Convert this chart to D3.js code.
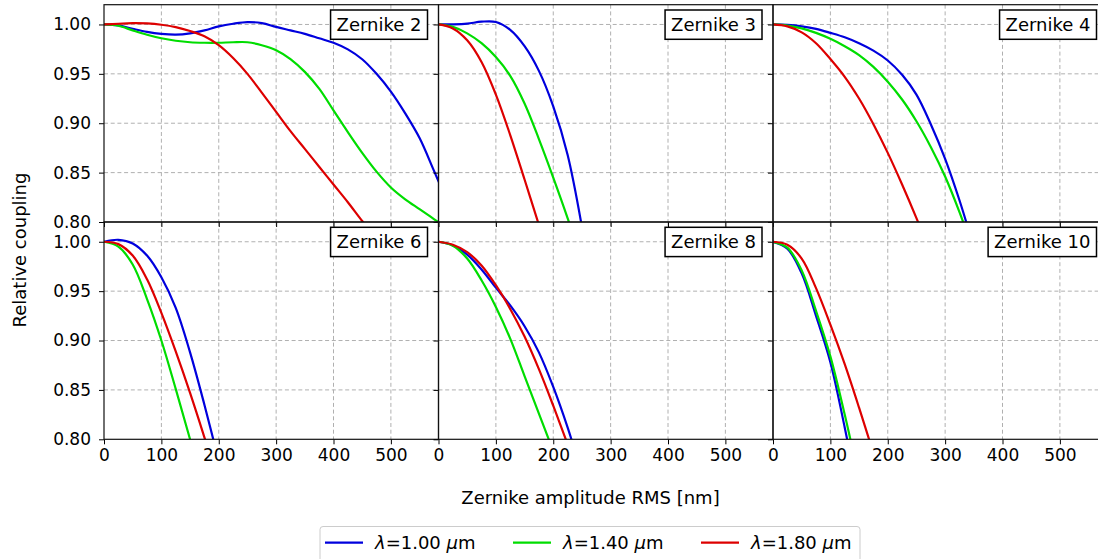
<!DOCTYPE html>
<html>
<head>
<meta charset="utf-8">
<script src="https://cdn.jsdelivr.net/npm/d3@7"></script>
<style>
  html, body { margin: 0; padding: 0; background: #fff; }
  svg { display: block; font-family: "DejaVu Sans", sans-serif; }
</style>
</head>
<body>
<svg id="chart" width="1098" height="559"></svg>
<script>
// ---------- data ----------
const xGrid = [0, 25, 50, 75, 100, 125, 150, 175, 200, 225, 250, 275, 300,
               325, 350, 375, 400, 425, 450, 475, 500, 525, 550, 575, 600];

const panelTitles = ["Zernike 2", "Zernike 3", "Zernike 4", "Zernike 6", "Zernike 8", "Zernike 10"];
const wavelengths = ["1.00", "1.40", "1.80"];
const seriesColors = ["#0000dd", "#00dd00", "#dd0000"];

const xTicks = [0, 100, 200, 300, 400, 500];
const yTicks = [0.80, 0.85, 0.90, 0.95, 1.00];

// Zernike 2
const z2Blue  = [1.000, 0.999, 0.9956, 0.9925, 0.9905, 0.9897, 0.991, 0.994, 0.998, 1.0007, 1.0024, 1.0013, 0.9975,
                 0.994, 0.9905, 0.986, 0.9815, 0.9748, 0.9648, 0.950, 0.932, 0.910, 0.885, 0.852, 0.818];
const z2Green = [1.000, 0.9987, 0.994, 0.9896, 0.986, 0.9835, 0.982, 0.9815, 0.9815, 0.982, 0.982, 0.979, 0.974,
                 0.965, 0.952, 0.935, 0.913, 0.891, 0.870, 0.851, 0.835, 0.823, 0.813, 0.803, 0.793];
const z2Red   = [1.000, 1.0007, 1.0013, 1.001, 0.9997, 0.9973, 0.9933, 0.988, 0.979, 0.966, 0.950, 0.931, 0.9115,
                 0.892, 0.874, 0.856, 0.838, 0.820, 0.801, 0.783];
// Zernike 3
const z3Blue  = [1.000, 1.0001, 1.0008, 1.0028, 1.0025, 0.9945, 0.978, 0.953, 0.917, 0.868, 0.795];
const z3Green = [1.000, 0.9975, 0.991, 0.981, 0.967, 0.948, 0.920, 0.884, 0.845, 0.804, 0.760];
const z3Red   = [1.000, 0.996, 0.984, 0.962, 0.929, 0.888, 0.843, 0.797];
// Zernike 4
const z4Blue  = [1.000, 0.9995, 0.998, 0.9955, 0.9915, 0.987, 0.981, 0.9735, 0.9635, 0.949, 0.929, 0.899, 0.864, 0.822, 0.774];
const z4Green = [1.000, 0.9988, 0.996, 0.9915, 0.9855, 0.978, 0.969, 0.957, 0.942, 0.924, 0.902, 0.876, 0.846, 0.810, 0.770];
const z4Red   = [1.000, 0.998, 0.992, 0.981, 0.965, 0.947, 0.925, 0.899, 0.870, 0.838, 0.804, 0.768];
// Zernike 6
const z6Blue  = [1.000, 1.002, 0.9983, 0.986, 0.964, 0.933, 0.888, 0.835, 0.778];
const z6Green = [1.000, 0.995, 0.977, 0.942, 0.900, 0.851, 0.800, 0.748];
const z6Red   = [1.000, 0.9976, 0.986, 0.962, 0.928, 0.889, 0.847, 0.802, 0.755];
// Zernike 8
const z8Blue  = [1.000, 0.9963, 0.987, 0.972, 0.9535, 0.9355, 0.9145, 0.888, 0.853, 0.812, 0.765];
const z8Green = [1.000, 0.996, 0.983, 0.961, 0.934, 0.902, 0.864, 0.826, 0.788];
const z8Red   = [1.000, 0.997, 0.9895, 0.976, 0.956, 0.932, 0.904, 0.871, 0.834, 0.795];
// Zernike 10
const z10Blue  = [1.000, 0.993, 0.968, 0.925, 0.878, 0.812, 0.740];
const z10Green = [1.000, 0.994, 0.971, 0.930, 0.884, 0.825, 0.760];
const z10Red   = [1.000, 0.997, 0.983, 0.953, 0.916, 0.876, 0.832, 0.786];

const panelSeries = [
  [z2Blue, z2Green, z2Red],
  [z3Blue, z3Green, z3Red],
  [z4Blue, z4Green, z4Red],
  [z6Blue, z6Green, z6Red],
  [z8Blue, z8Green, z8Red],
  [z10Blue, z10Green, z10Red]
];

// ---------- layout ----------
const svg = d3.select("#chart");
const plotLeft = 104, plotTop = 4.7;
const panelW = 334.5, panelH = 217.3;
const xMax = 583;
const font = "DejaVu Sans";

const defs = svg.append("defs");
const gridLayer = svg.append("g");
const lineLayer = svg.append("g");
const axisLayer = svg.append("g");
const boxLayer = svg.append("g");

panelTitles.forEach((title, i) => {
  const col = i % 3, row = Math.floor(i / 3);
  const left = plotLeft + col * panelW;
  const top = plotTop + row * panelH;
  const x = d3.scaleLinear().domain([0, xMax]).range([left, left + panelW]);
  const y = d3.scaleLinear().domain([0.80, 1.02]).range([top + panelH, top]);

  const clipId = "clip" + i;
  defs.append("clipPath").attr("id", clipId)
    .append("rect").attr("x", left).attr("y", top).attr("width", panelW).attr("height", panelH);

  // grid
  const g = gridLayer.append("g").attr("clip-path", `url(#${clipId})`);
  g.selectAll(".gx").data(xTicks.filter(t => t > 0)).enter().append("line")
    .attr("x1", d => x(d)).attr("x2", d => x(d)).attr("y1", top).attr("y2", top + panelH)
    .attr("stroke", "#b0b0b0").attr("stroke-width", 1).attr("stroke-dasharray", "4,2.7");
  g.selectAll(".gy").data(yTicks.filter(t => t > 0.8)).enter().append("line")
    .attr("y1", d => y(d)).attr("y2", d => y(d)).attr("x1", left).attr("x2", left + panelW)
    .attr("stroke", "#b0b0b0").attr("stroke-width", 1).attr("stroke-dasharray", "4,2.7");

  // lines
  const lg = lineLayer.append("g").attr("clip-path", `url(#${clipId})`);
  const line = d3.line().x(d => x(d[0])).y(d => y(d[1])).curve(d3.curveCatmullRom.alpha(0.5));
  panelSeries[i].forEach((vals, s) => {
    const pts = vals.map((v, k) => [xGrid[k], v]);
    lg.append("path").attr("d", line(pts))
      .attr("fill", "none").attr("stroke", seriesColors[s]).attr("stroke-width", 2.2)
      .attr("stroke-linejoin", "round");
  });

  // axes (ticks outward)
  const yAxis = d3.axisLeft(y).tickValues(yTicks).tickSize(5).tickPadding(8.5)
    .tickFormat(col === 0 ? d3.format(".2f") : () => "");
  const ya = axisLayer.append("g").attr("transform", `translate(${left},0)`).call(yAxis);
  const xAxis = d3.axisBottom(x).tickValues(xTicks).tickSize(5).tickPadding(5)
    .tickFormat(row === 1 ? d3.format("d") : () => "");
  const xa = axisLayer.append("g").attr("transform", `translate(0,${top + panelH})`).call(xAxis);
  [ya, xa].forEach(a => {
    a.select(".domain").remove();
    a.selectAll(".tick line").attr("stroke", "#000").attr("stroke-width", 1);
    a.selectAll(".tick text").attr("font-family", font).attr("font-size", 17).attr("fill", "#000");
  });
  ya.selectAll(".tick text").attr("x", -13);

  // spines
  axisLayer.append("rect").attr("x", left).attr("y", top).attr("width", panelW).attr("height", panelH)
    .attr("fill", "none").attr("stroke", "#111").attr("stroke-width", 1.2);

  // title box
  const bg = boxLayer.append("g");
  const txt = bg.append("text").attr("font-family", font).attr("font-size", 18).attr("fill", "#000")
    .attr("text-anchor", "end").attr("x", left + panelW - 11 - 6).attr("y", top + 5.3 + 14.6)
    .attr("dy", "0.36em").text(title);
  const tw = txt.node().getComputedTextLength();
  bg.insert("rect", "text").attr("x", left + panelW - 11 - tw - 12).attr("y", top + 5.3)
    .attr("width", tw + 12).attr("height", 29.3)
    .attr("fill", "#fff").attr("stroke", "#000").attr("stroke-width", 1.5);
});

// axis labels
svg.append("text").attr("x", 590.5).attr("y", 503.5).attr("text-anchor", "middle")
  .attr("font-family", font).attr("font-size", 18).attr("fill", "#000")
  .text("Zernike amplitude RMS [nm]");
svg.append("text").attr("transform", "translate(25.5,250) rotate(-90)").attr("text-anchor", "middle")
  .attr("font-family", font).attr("font-size", 18).attr("fill", "#000")
  .text("Relative coupling");

// legend
const legend = svg.append("g");
legend.append("rect").attr("x", 320).attr("y", 526.5).attr("width", 540).attr("height", 45)
  .attr("rx", 3).attr("fill", "#fff").attr("stroke", "#cccccc").attr("stroke-width", 1);
wavelengths.forEach((w, s) => {
  const lx = 325 + s * 188;
  legend.append("line").attr("x1", lx).attr("x2", lx + 38).attr("y1", 542.7).attr("y2", 542.7)
    .attr("stroke", seriesColors[s]).attr("stroke-width", 2.2);
  const t = legend.append("text").attr("x", lx + 50).attr("y", 542.7).attr("dy", "0.36em")
    .attr("font-family", font).attr("font-size", 18).attr("fill", "#000");
  t.append("tspan").attr("font-style", "italic").text("λ");
  t.append("tspan").text("=" + w + " ");
  t.append("tspan").attr("font-style", "italic").text("μ");
  t.append("tspan").text("m");
});
</script>
</body>
</html>
